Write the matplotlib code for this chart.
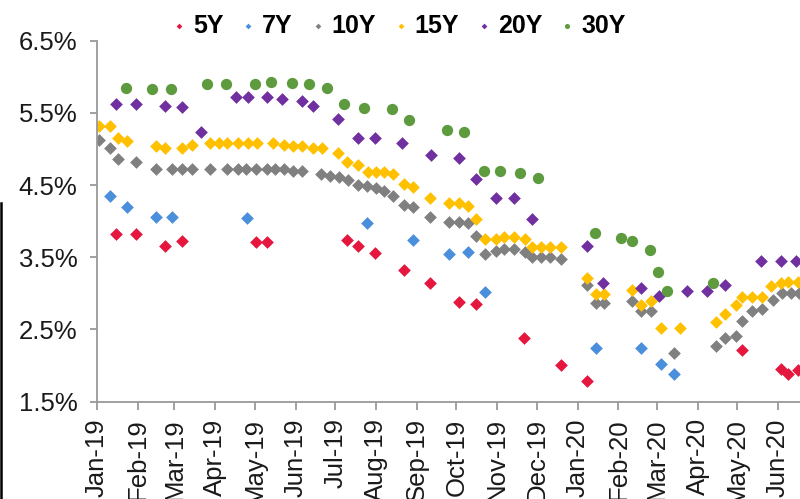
import matplotlib
matplotlib.use("Agg")
import matplotlib.pyplot as plt
import matplotlib.dates as mdates
import numpy as np

plt.rcParams['font.family'] = ['Liberation Sans', 'DejaVu Sans']

# Yields (%) by tenor
dates_5y = ["2019-01-16", "2019-01-31", "2019-02-22", "2019-03-07", "2019-05-02", "2019-05-10",
            "2019-07-10", "2019-07-18", "2019-07-31", "2019-08-22", "2019-09-11", "2019-10-03",
            "2019-10-16", "2019-11-21", "2019-12-19", "2020-01-08", "2020-05-05", "2020-06-03",
            "2020-06-09", "2020-06-16"]
vals_5y = [3.82, 3.82, 3.66, 3.72, 3.71, 3.71,
           3.74, 3.65, 3.56, 3.32, 3.15, 2.88,
           2.85, 2.38, 2.01, 1.78, 2.22, 1.95,
           1.89, 1.94]

dates_7y = ["2019-01-11", "2019-01-24", "2019-02-15", "2019-02-27", "2019-04-25", "2019-07-25",
            "2019-08-29", "2019-09-25", "2019-10-10", "2019-10-23", "2020-01-15", "2020-02-18",
            "2020-03-04", "2020-03-14"]
vals_7y = [4.35, 4.19, 4.06, 4.06, 4.05, 3.98,
           3.74, 3.54, 3.58, 3.02, 2.24, 2.25,
           2.02, 1.88]

dates_10y = ["2019-01-03", "2019-01-11", "2019-01-17", "2019-01-31", "2019-02-15", "2019-02-27",
             "2019-03-07", "2019-03-14", "2019-03-28", "2019-04-10", "2019-04-18", "2019-04-24",
             "2019-05-02", "2019-05-10", "2019-05-16", "2019-05-23", "2019-05-30", "2019-06-06",
             "2019-06-20", "2019-06-27", "2019-07-04", "2019-07-11", "2019-07-18", "2019-07-25",
             "2019-08-01", "2019-08-07", "2019-08-14", "2019-08-22", "2019-08-29", "2019-09-11",
             "2019-09-25", "2019-10-03", "2019-10-10", "2019-10-16", "2019-10-23", "2019-10-31",
             "2019-11-06", "2019-11-14", "2019-11-22", "2019-11-27", "2019-12-04", "2019-12-11",
             "2019-12-19", "2020-01-08", "2020-01-15", "2020-01-21", "2020-02-11", "2020-02-18",
             "2020-02-26", "2020-03-14", "2020-04-15", "2020-04-22", "2020-04-30", "2020-05-05",
             "2020-05-12", "2020-05-20", "2020-05-28", "2020-06-04", "2020-06-11", "2020-06-17"]
vals_10y = [5.12, 5.01, 4.86, 4.82, 4.72, 4.72,
            4.72, 4.72, 4.72, 4.72, 4.72, 4.72,
            4.72, 4.73, 4.72, 4.72, 4.70, 4.70,
            4.65, 4.63, 4.61, 4.57, 4.50, 4.49,
            4.46, 4.42, 4.35, 4.22, 4.20, 4.06,
            3.99, 3.99, 3.98, 3.79, 3.55, 3.59,
            3.61, 3.61, 3.58, 3.51, 3.51, 3.51,
            3.47, 3.12, 2.87, 2.87, 2.90, 2.76,
            2.76, 2.17, 2.27, 2.38, 2.41, 2.62,
            2.75, 2.79, 2.91, 3.01, 3.01, 3.01]

dates_15y = ["2019-01-03", "2019-01-11", "2019-01-17", "2019-01-24", "2019-02-15", "2019-02-22",
             "2019-03-07", "2019-03-14", "2019-03-28", "2019-04-04", "2019-04-10", "2019-04-18",
             "2019-04-26", "2019-05-03", "2019-05-15", "2019-05-23", "2019-05-30", "2019-06-06",
             "2019-06-14", "2019-06-21", "2019-07-03", "2019-07-10", "2019-07-18", "2019-07-26",
             "2019-08-01", "2019-08-07", "2019-08-14", "2019-08-22", "2019-08-29", "2019-09-11",
             "2019-09-25", "2019-10-03", "2019-10-10", "2019-10-16", "2019-10-23", "2019-10-31",
             "2019-11-06", "2019-11-14", "2019-11-22", "2019-11-27", "2019-12-04", "2019-12-11",
             "2019-12-19", "2020-01-08", "2020-01-15", "2020-01-21", "2020-02-11", "2020-02-18",
             "2020-02-26", "2020-03-04", "2020-03-19", "2020-04-15", "2020-04-22", "2020-04-30",
             "2020-05-05", "2020-05-12", "2020-05-20", "2020-05-27", "2020-06-03", "2020-06-09",
             "2020-06-16"]
vals_15y = [5.32, 5.32, 5.15, 5.11, 5.04, 5.01,
            5.01, 5.06, 5.09, 5.09, 5.09, 5.09,
            5.09, 5.09, 5.09, 5.06, 5.04, 5.04,
            5.02, 5.01, 4.95, 4.82, 4.78, 4.68,
            4.68, 4.68, 4.66, 4.51, 4.47, 4.32,
            4.25, 4.25, 4.21, 4.03, 3.75, 3.76,
            3.78, 3.78, 3.76, 3.64, 3.64, 3.64,
            3.64, 3.22, 2.99, 2.99, 3.05, 2.84,
            2.90, 2.52, 2.52, 2.61, 2.71, 2.84,
            2.95, 2.95, 2.95, 3.10, 3.14, 3.16,
            3.16]

dates_20y = ["2019-01-16", "2019-01-31", "2019-02-22", "2019-03-07", "2019-03-21", "2019-04-17",
             "2019-04-26", "2019-05-10", "2019-05-22", "2019-06-06", "2019-06-14", "2019-07-03",
             "2019-07-18", "2019-07-31", "2019-08-21", "2019-09-12", "2019-10-03", "2019-10-16",
             "2019-10-31", "2019-11-14", "2019-11-27", "2020-01-08", "2020-01-20", "2020-02-18",
             "2020-03-03", "2020-03-24", "2020-04-08", "2020-04-22", "2020-05-19", "2020-06-03",
             "2020-06-15"]
vals_20y = [5.62, 5.62, 5.59, 5.58, 5.23, 5.72,
            5.72, 5.72, 5.69, 5.66, 5.59, 5.41,
            5.15, 5.15, 5.09, 4.92, 4.88, 4.58,
            4.32, 4.32, 4.03, 3.66, 3.15, 3.08,
            2.96, 3.03, 3.03, 3.12, 3.45, 3.45,
            3.45]

dates_30y = ["2019-01-23", "2019-02-12", "2019-02-26", "2019-03-26", "2019-04-09", "2019-05-01",
             "2019-05-13", "2019-05-29", "2019-06-11", "2019-06-25", "2019-07-08", "2019-07-23",
             "2019-08-13", "2019-08-26", "2019-09-24", "2019-10-07", "2019-10-22", "2019-11-03",
             "2019-11-18", "2019-12-02", "2020-01-14", "2020-02-03", "2020-02-11", "2020-02-25",
             "2020-03-02", "2020-03-09", "2020-04-13"]
vals_30y = [5.84, 5.83, 5.83, 5.90, 5.90, 5.90,
            5.93, 5.92, 5.90, 5.84, 5.63, 5.57,
            5.56, 5.40, 5.27, 5.23, 4.70, 4.70,
            4.67, 4.60, 3.83, 3.77, 3.73, 3.60,
            3.30, 3.04, 3.14]

series = [
    ("5Y", dates_5y, vals_5y, "#E5173F", "D", 42),
    ("7Y", dates_7y, vals_7y, "#4A8FDB", "D", 42),
    ("10Y", dates_10y, vals_10y, "#808080", "D", 42),
    ("15Y", dates_15y, vals_15y, "#FFC000", "D", 42),
    ("20Y", dates_20y, vals_20y, "#7030A0", "D", 42),
    ("30Y", dates_30y, vals_30y, "#5E9B3F", "o", 66),
]

fig = plt.figure(figsize=(8, 4.99), dpi=100)
# the plot area runs a little past the right edge of the picture
ax = fig.add_axes([0.1209, 0.195, 0.891, 0.7234])

for name, d, v, col, mk, sz in series:
    ax.scatter(np.array(d, dtype="datetime64[D]"), v, s=sz, marker=mk, color=col,
               linewidths=0, label=name)

ax.set_xlim(np.datetime64("2019-01-01"), np.datetime64("2020-06-25"))
ax.set_ylim(1.5, 6.5)
ax.set_yticks([1.5, 2.5, 3.5, 4.5, 5.5, 6.5])
ax.set_yticklabels(["1.5%", "2.5%", "3.5%", "4.5%", "5.5%", "6.5%"])
ax.xaxis.set_major_locator(mdates.MonthLocator())
ax.xaxis.set_major_formatter(mdates.DateFormatter("%b-%y"))

for s in ["top", "right"]:
    ax.spines[s].set_visible(False)
for s in ["left", "bottom"]:
    ax.spines[s].set_color("#999999")
    ax.spines[s].set_linewidth(1.3)
ax.tick_params(axis="both", colors="#999999", width=1.3, labelcolor="#1a1a1a", labelsize=18.5)
ax.tick_params(axis="x", length=6, rotation=90, pad=6)
ax.tick_params(axis="y", length=5, pad=9)

leg = fig.legend(loc="center", bbox_to_anchor=(0.495, 0.948), ncol=6, frameon=False,
                 handletextpad=0.05, columnspacing=0.5, handlelength=1.0, markerscale=0.45,
                 prop={"weight": "bold", "size": 18})

# crop artifact at the left edge
fig.add_artist(plt.Line2D([0.0015, 0.0015], [0.0, 0.593], transform=fig.transFigure,
                          color="black", linewidth=1.8))

fig.savefig("out.png", dpi=100)
